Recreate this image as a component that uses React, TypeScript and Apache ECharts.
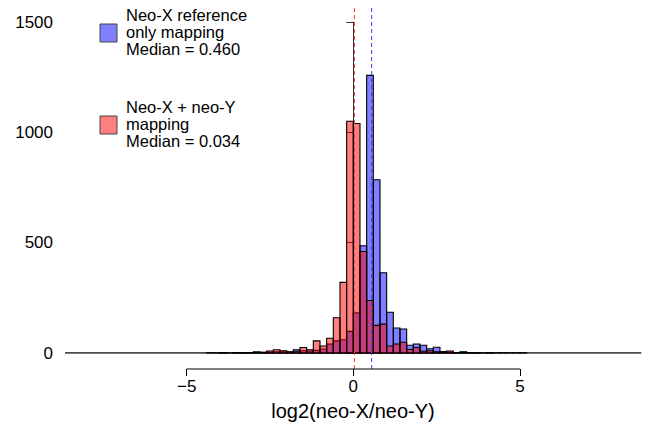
import React, { useEffect, useRef } from 'react';
import * as echarts from 'echarts';

const binWidth = 0.2;
const binStarts = [
  -4.4, -4.2, -4.0, -3.8, -3.6, -3.4, -3.2, -3.0, -2.8, -2.6, -2.4, -2.2,
  -2.0, -1.8, -1.6, -1.4, -1.2, -1.0, -0.8, -0.6, -0.4, -0.2, 0.0, 0.2,
  0.4, 0.6, 0.8, 1.0, 1.2, 1.4, 1.6, 1.8, 2.0, 2.2, 2.4, 2.6,
  2.8, 3.0, 3.2, 3.4, 3.6, 3.8, 4.0, 4.2, 4.4, 4.6, 4.8, 5.0,
];
const blueCounts = [
  1, 0, 1, 0, 1, 1, 2, 2, 3, 4, 6, 5,
  4, 15, 10, 8, 12, 18, 40, 55, 60, 98, 182, 486,
  1258, 785, 364, 185, 113, 109, 35, 41, 35, 19, 26, 7,
  4, 2, 5, 2, 1, 1, 1, 0, 1, 0, 1, 1,
];
const redCounts = [
  0, 1, 1, 1, 2, 1, 2, 5, 3, 9, 15, 10,
  6, 8, 25, 14, 55, 32, 67, 160, 320, 1050, 1040, 460,
  238, 125, 131, 32, 41, 49, 16, 25, 8, 10, 6, 5,
  9, 2, 3, 1, 1, 0, 1, 1, 0, 1, 0, 0,
];
const dataRange = [-8.65, 8.64];
const xTicks = [-5, 0, 5];
const yTicks = [0, 500, 1000, 1500];
const blueMedianLine = 0.55;
const redMedianLine = 0.034;
const blueLegend = ['Neo-X reference', 'only mapping', 'Median = 0.460'];
const redLegend = ['Neo-X + neo-Y', 'mapping', 'Median = 0.034'];
const xTitle = 'log2(neo-X/neo-Y)';

const FONT = '"Liberation Sans", Arial, Helvetica, sans-serif';
const BLUE = 'rgba(0,0,255,0.5)';
const RED = 'rgba(255,0,0,0.5)';

function barSeries(counts: number[], fill: string, z: number) {
  return {
    type: 'custom',
    coordinateSystem: 'cartesian2d',
    silent: true,
    z,
    data: binStarts.map((s, i) => [s, s + binWidth, counts[i]]),
    encode: { x: [0, 1], y: 2 },
    renderItem: (_p: any, api: any) => {
      const x0 = api.value(0);
      const x1 = api.value(1);
      const c = api.value(2);
      if (!c) return null;
      const a = api.coord([x0, c]);
      const b = api.coord([x1, 0]);
      return {
        type: 'rect',
        shape: { x: a[0], y: a[1], width: b[0] - a[0], height: b[1] - a[1] },
        style: { fill, stroke: '#000', lineWidth: 1.1 },
      };
    },
  };
}

function legendLines(lines: string[], firstCenter: number, step: number) {
  return lines.map((t, i) => ({
    type: 'text',
    x: 126,
    y: firstCenter + i * step,
    style: { text: t, font: `16.5px ${FONT}`, fill: '#000', textVerticalAlign: 'middle' },
  }));
}

export default function App() {
  const ref = useRef<HTMLDivElement>(null);
  useEffect(() => {
    if (!ref.current) return;
    const chart = echarts.init(ref.current, null, { renderer: 'svg' });
    const option: any = {
      animation: false,
      backgroundColor: '#fff',
      grid: { left: 65, top: 22, width: 576.3, height: 331 },
      xAxis: {
        type: 'value',
        min: dataRange[0],
        max: dataRange[1],
        offset: 16,
        axisLine: { show: false, onZero: false },
        axisTick: { show: true, customValues: xTicks, length: 7, lineStyle: { color: '#000', width: 1 } },
        axisLabel: {
          customValues: xTicks,
          fontSize: 17,
          fontFamily: FONT,
          color: '#000',
          margin: 9,
          formatter: (v: number) => (v < 0 ? '\u2212' + Math.abs(v) : String(v)),
        },
        splitLine: { show: false },
      },
      yAxis: {
        type: 'value',
        min: 0,
        max: 1500,
        interval: 500,
        axisLine: { show: true, lineStyle: { color: '#333', width: 1 } },
        axisTick: { show: true, length: 7, lineStyle: { color: '#333', width: 1 } },
        axisLabel: { fontSize: 17, fontFamily: FONT, color: '#000', margin: 12, formatter: (v: number) => String(v) },
        splitLine: { show: false },
      },
      series: [
        {
          type: 'line',
          silent: true,
          z: 1,
          symbol: 'none',
          data: [[dataRange[0], 0], [dataRange[1], 0]],
          lineStyle: { color: '#111', width: 1.3 },
        },
        barSeries(blueCounts, BLUE, 2),
        barSeries(redCounts, RED, 3),
        {
          type: 'custom',
          coordinateSystem: 'cartesian2d',
          silent: true,
          z: 4,
          clip: false,
          data: [[redMedianLine, 0], [blueMedianLine, 1]],
          renderItem: (_p: any, api: any) => {
            const m = api.value(0);
            const isBlue = api.value(1) === 1;
            const top = api.coord([m, yTicks[yTicks.length - 1]]);
            const bot = api.coord([m, 0]);
            return {
              type: 'line',
              shape: { x1: top[0], y1: top[1] - 14, x2: bot[0], y2: bot[1] + 18 },
              style: { stroke: isBlue ? '#3a3aff' : '#ff3a3a', lineWidth: 1, lineDash: [4, 3] },
            };
          },
        },
        {
          type: 'custom',
          coordinateSystem: 'cartesian2d',
          silent: true,
          z: 4,
          clip: false,
          data: [[xTicks[0], xTicks[xTicks.length - 1]]],
          renderItem: (_p: any, api: any) => {
            const a = api.coord([api.value(0), 0]);
            const b = api.coord([api.value(1), 0]);
            return {
              type: 'line',
              shape: { x1: a[0], y1: a[1] + 16, x2: b[0], y2: b[1] + 16 },
              style: { stroke: '#000', lineWidth: 1 },
            };
          },
        },
      ],
      graphic: [
        { type: 'rect', shape: { x: 100, y: 24, width: 17, height: 18 }, style: { fill: BLUE, stroke: '#444', lineWidth: 1 } },
        ...legendLines(blueLegend, 15, 16.8),
        { type: 'rect', shape: { x: 100, y: 116, width: 17, height: 18 }, style: { fill: RED, stroke: '#444', lineWidth: 1 } },
        ...legendLines(redLegend, 107, 16.8),
        {
          type: 'text', x: 353, y: 411,
          style: { text: xTitle, font: `20px ${FONT}`, fill: '#000', textAlign: 'center', textVerticalAlign: 'middle' },
        },
      ],
    };
    chart.setOption(option);
    return () => chart.dispose();
  }, []);
  return <div ref={ref} style={{ position: 'absolute', left: 0, top: 0, width: 645, height: 428 }} />;
}
